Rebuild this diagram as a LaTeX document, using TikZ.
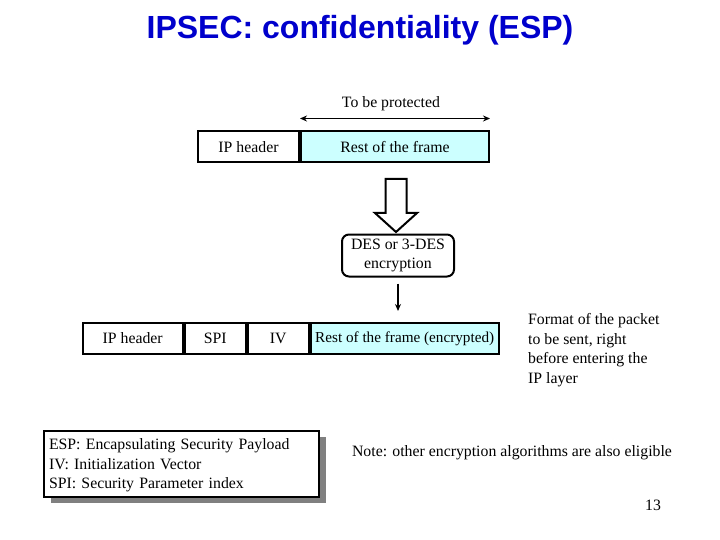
\documentclass[tikz,border=0pt]{standalone}
\usepackage{fontspec}
\setmainfont{Liberation Serif}
\newfontfamily\titlefont{Liberation Sans}
\usepackage{tikz}
\usetikzlibrary{arrows.meta,positioning,shadows}
\definecolor{framecyan}{HTML}{CCFFFF}
\definecolor{titleblue}{HTML}{0000CC}

\begin{document}
\begin{tikzpicture}[
  x=1pt, y=-1pt,
  every node/.style={font=\fontsize{15.8}{19.5}\selectfont},
  field/.style={draw, line width=2pt, minimum height=31pt, inner sep=0pt},
  thinarrow/.style={-{Stealth[length=7pt,width=6pt]}, line width=1.5pt},
]
  \useasboundingbox (0,0) rectangle (720,540);

  % Title
  \node[font=\titlefont\bfseries\fontsize{32}{36}\selectfont, text=titleblue] (title) at (360,30) {IPSEC: confidentiality (ESP)};

  % Frame before encryption
  \node[field, fill=white, minimum width=101pt] (iph) at (248.5,147) {IP header};
  \node[field, fill=framecyan, minimum width=188pt, right=0pt of iph] (restfr) {Rest of the frame};
  \coordinate (protl) at ([yshift=12pt]restfr.north west);
  \coordinate (protr) at ([yshift=12pt]restfr.north east);
  \draw[{Stealth[length=7pt,width=6pt]}-{Stealth[length=7pt,width=6pt]}, line width=1.5pt] (protl) -- (protr);
  \node (prot) at (391,104) {To be protected};

  % Hollow arrow
  \draw[line width=2pt, fill=white]
    (385.5,179) -- (406.5,179) -- (406.5,213) -- (417,213) -- (396,232) -- (375,213) -- (385.5,213) -- cycle;

  % Encryption
  \node[draw, line width=2pt, rounded corners=7pt, minimum width=112pt, minimum height=42pt,
        inner sep=0pt, align=center] (des) at (398,255.5) {DES or 3-DES\\encryption};

  % Frame after encryption
  \node[field, minimum width=100pt] (iph2) at (132.7,338.5) {IP header};
  \node[field, minimum width=61pt, right=0pt of iph2] (spi) {SPI};
  \node[field, minimum width=61pt, right=0pt of spi] (iv) {IV};
  \node[field, fill=framecyan, minimum width=188pt, font=\fontsize{15.2}{19}\selectfont, right=0pt of iv] (encfr) {Rest of the frame (encrypted)};
  \draw[thinarrow, shorten <=6pt, shorten >=11pt] (des.south) -- (des.south |- encfr.north);

  \node[anchor=west, inner sep=0pt, align=left] (fmt) at (528,350)
    {Format of the packet\\to be sent, right\\before entering the\\IP layer};

  % Legend
  \node[draw, line width=2pt, fill=white, minimum width=275pt, minimum height=64pt,
        text width=265pt, align=left, inner ysep=5pt,
        drop shadow={shadow xshift=7pt, shadow yshift=-6pt, fill=gray, opacity=1}] (legend) at (181.5,464)
    {\strut ESP: Encapsulating Security Payload\\IV: Initialization Vector\\SPI: Security Parameter index};

  \node (note) at (512,452.5) {Note: other encryption algorithms are also eligible};
  \node (pageno) at (653,505) {13};
\end{tikzpicture}
\end{document}
